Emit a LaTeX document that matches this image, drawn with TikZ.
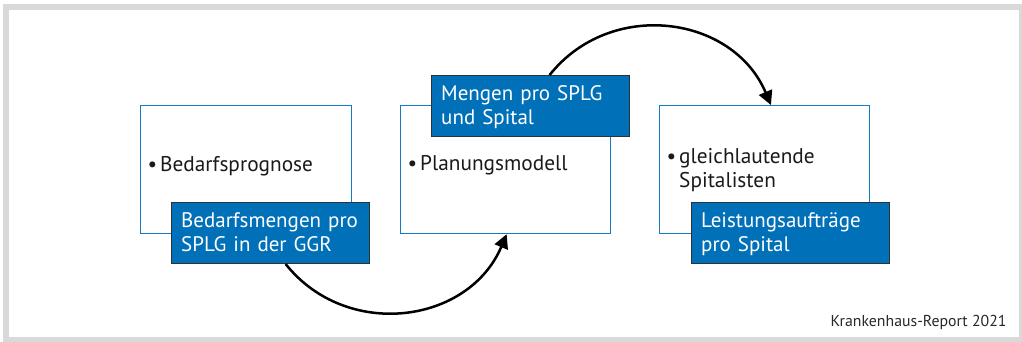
\documentclass[tikz,border=0pt]{standalone}
\usepackage{fontspec}
\setmainfont{PT Sans}
\usetikzlibrary{arrows.meta,calc}

\definecolor{frameGray}{RGB}{217,217,217}
\definecolor{boxBlue}{RGB}{20,124,196}
\definecolor{labelBlue}{RGB}{0,112,184}
\definecolor{labelEdge}{RGB}{45,50,55}
\definecolor{textDark}{RGB}{26,26,26}
\definecolor{noteGray}{RGB}{40,40,40}

\tikzset{
  stagebox/.style={draw=boxBlue, line width=1.2pt, fill=white, anchor=north west,
    inner xsep=7pt, inner ysep=0pt, align=left, text=textDark,
    font=\fontsize{21.3}{24}\selectfont},
  taglabel/.style={draw=labelEdge, line width=1pt, fill=labelBlue, anchor=north west,
    inner xsep=9.7pt, inner ysep=0pt, align=left, text=white, text width=178.6pt,
    text height=25.3pt, text depth=35.7pt, font=\fontsize{21}{24}\selectfont},
  flow/.style={line width=2.5pt, -{Triangle[length=14pt,width=14pt]}, looseness=1.12}
}

\newcommand{\bulletlines}[1]{%
  \begin{tabular}[t]{@{}l@{\hspace{3pt}}l@{}}\textbullet & #1\end{tabular}}

\begin{document}
\begin{tikzpicture}[x=1pt,y=-1pt]
  \useasboundingbox (0,0) rectangle (1022,341);
  % outer frame
  \draw[frameGray, line width=6pt] (6,6.5) rectangle (1022,340);

  % stage boxes
  \node[stagebox, minimum width=211pt, minimum height=128pt, text width=197pt,
        text height=66pt, text depth=62pt] (s1) at (140,105)
        {\bulletlines{Bedarfsprognose}};
  \node[stagebox, minimum width=210pt, minimum height=128pt, text width=196pt,
        text height=65pt, text depth=63pt] (s2) at (400,105)
        {\bulletlines{Planungsmodell}};
  \node[stagebox, minimum width=210pt, minimum height=128pt, text width=196pt,
        text height=58pt, text depth=70pt] (s3) at (659,105)
        {\bulletlines{gleichlautende\\ & Spitalisten}};

  % result labels
  \node[taglabel] (l1) at (171,202) {Bedarfsmengen pro\\SPLG in der GGR};
  \node[taglabel, text height=25pt, text depth=36pt] (l2) at (431,75) {Mengen pro SPLG\\und Spital};
  \node[taglabel] (l3) at (691,202) {Leistungsaufträge\\pro Spital};

  % flow arrows
  \draw[flow] ($(l1.south west)!0.576!(l1.south east)$) to[out=-51.5, in=-113] ($(s2.south west)!0.505!(s2.south east)$);
  \draw[flow] ($(l2.north west)!0.596!(l2.north east)$) to[out=51.5, in=113] ($(s3.north west)!0.53!(s3.north east)$);

  % source note
  \node[anchor=base east, text=noteGray, font=\fontsize{15.8}{18}\selectfont, inner sep=0pt]
    (note) at (1006.7,326.7) {Krankenhaus-Report 2021};
\end{tikzpicture}
\end{document}
